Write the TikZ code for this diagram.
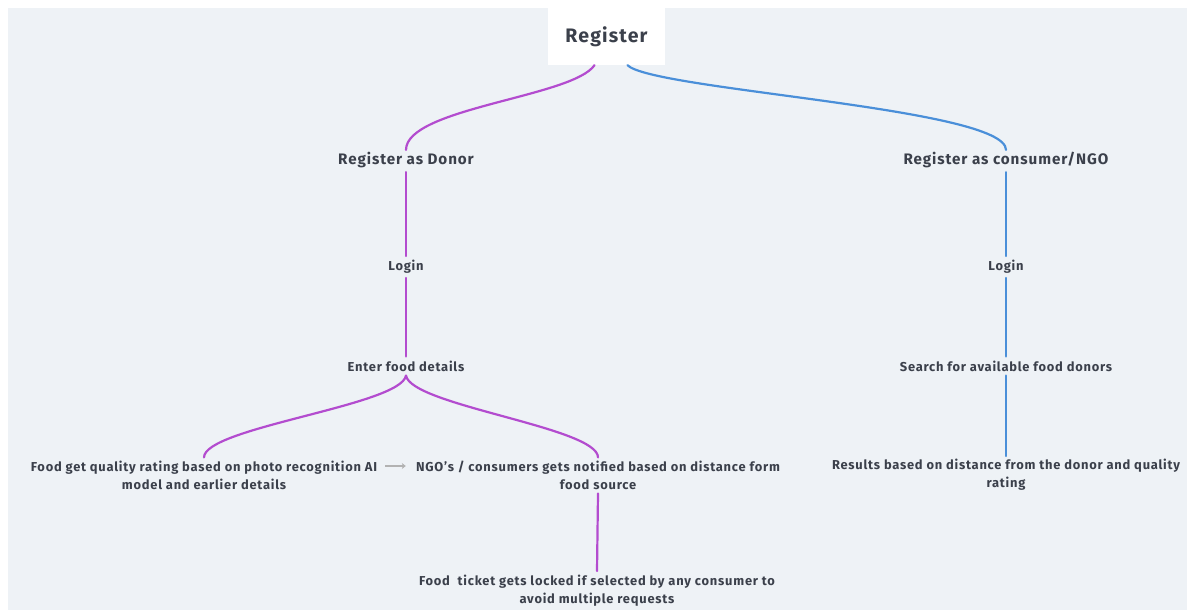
\documentclass[tikz,border=0pt]{standalone}
\usepackage{fontspec}
\setmainfont{Fira Sans}[LetterSpace=6]
\usetikzlibrary{arrows.meta}
\definecolor{bg}{HTML}{EEF2F6}
\definecolor{txt}{HTML}{3B404B}
\definecolor{pur}{HTML}{B34CCF}
\definecolor{blu}{HTML}{4A8FD9}
\tikzset{
  lbl/.style={font=\bfseries\fontsize{12.9}{18}\selectfont, text=txt, inner sep=4pt, align=center},
  big/.style={font=\bfseries\fontsize{15.2}{18}\selectfont, text=txt, inner sep=4pt, align=center},
  pline/.style={draw=pur, line width=2.2pt, line cap=round},
  bline/.style={draw=blu, line width=2.2pt, line cap=round},
}
\begin{document}
\begin{tikzpicture}[x=1pt,y=-1pt]
\useasboundingbox (0,0) rectangle (1187,610);
\fill[white] (0,0) rectangle (1187,610);
\fill[bg] (8,8) rectangle (1187,610);

\node[fill=white, minimum width=117pt, minimum height=57pt, inner sep=0pt,
      font=\bfseries\fontsize{19.5}{22}\selectfont, text=txt] (reg) at (606.5,36.5) {Register};

\node[big] (donor) at (406,160) {Register as Donor};
\node[big] (cons) at (1006,160) {Register as consumer/NGO};

\node[lbl] (login1) at (406,267) {Login};
\node[lbl] (login2) at (1006,267) {Login};

\node[lbl] (enter) at (406,366) {Enter food details};
\node[lbl] (search) at (1006,366) {Search for available food donors};

\node[lbl] (qual) at (204,475) {Food get quality rating based on photo recognition AI\\model and earlier details};
\node[lbl] (ngo) at (598,475) {NGO's / consumers gets notified based on distance form\\food source};
\node[lbl] (res) at (1006,475) {Results based on distance from the donor and quality\\rating};
\node[lbl] (ticket) at (597,591) {Food\ \ ticket gets locked if selected by any consumer to\\avoid multiple requests};

% top curves
\draw[pline] ([xshift=-12pt]reg.south) .. controls +(-22,32) and +(0,-42) .. ([yshift=-2pt]donor.north);
\draw[bline] ([xshift=21pt]reg.south) .. controls +(25,25) and +(0,-42) .. ([yshift=-2pt]cons.north);

% donor branch
\draw[pline] (donor.south) -- (login1.north);
\draw[pline] (login1.south) -- (enter.north);
\draw[pline] (enter.south) .. controls +(-5,30) and +(0,-30) .. ([yshift=-1pt]qual.north);
\draw[pline] (enter.south) .. controls +(5,30) and +(0,-30) .. ([yshift=-1pt]ngo.north);
\draw[pline] (ngo.south) -- (ticket.north);

% consumer branch
\draw[bline] (cons.south) -- (login2.north);
\draw[bline] (login2.south) -- (search.north);
\draw[bline] (search.south) -- ([yshift=-1pt]res.north);

% small arrow
\draw[-{Stealth[length=4pt,width=6pt]}, line width=1.4pt, draw=gray!60, shorten <=4pt, shorten >=6pt]
  ([yshift=9pt]qual.east) -- ([yshift=9pt]ngo.west);
\end{tikzpicture}
\end{document}
